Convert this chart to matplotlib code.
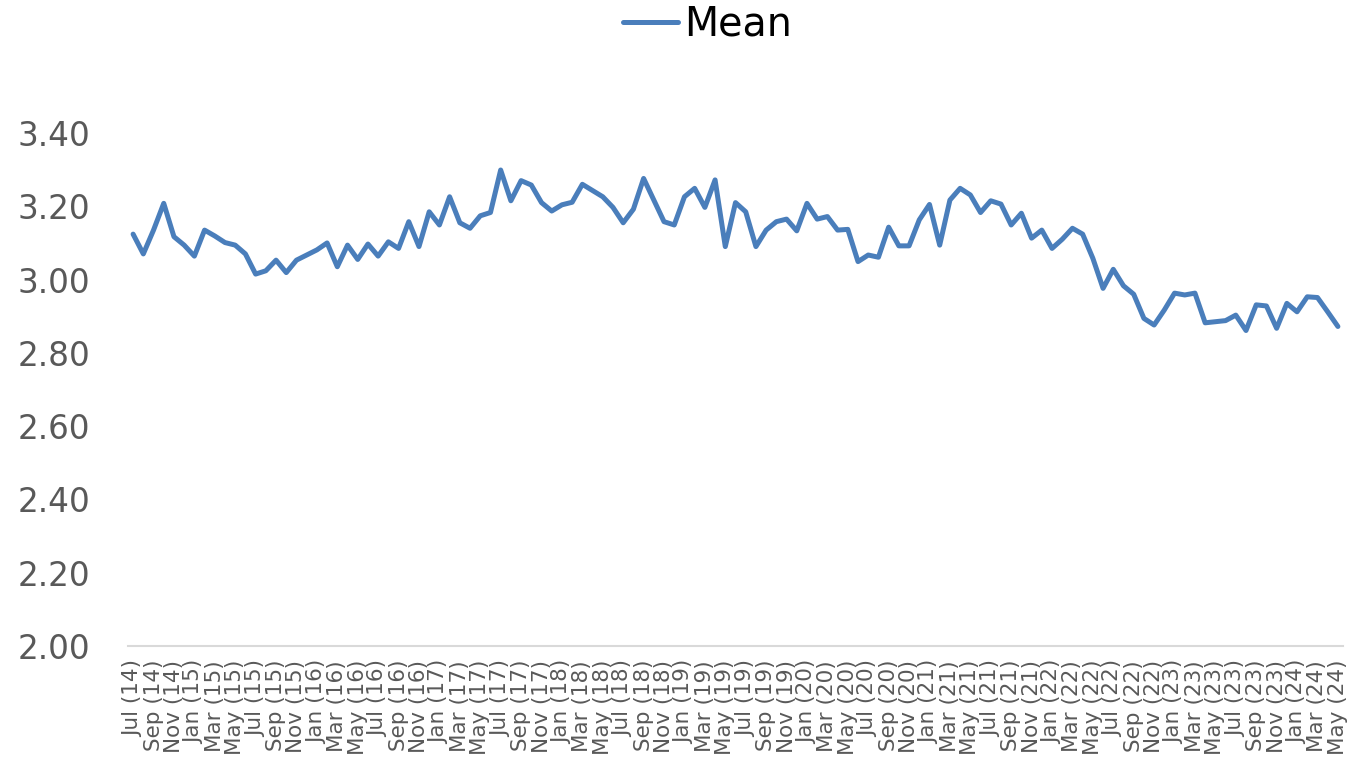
import matplotlib
matplotlib.use("Agg")
import matplotlib.pyplot as plt
import pandas as pd

# Monthly categories, Jul 2014 - May 2024
months = pd.date_range("2014-07-01", "2024-05-01", freq="MS")
month_labels = [f"{d.strftime('%b')} ({d.strftime('%y')})" for d in months]

series_name = "Mean"
mean_values = [
    3.124, 3.070, 3.135, 3.208, 3.117, 3.094, 3.064, 3.135, 3.119, 3.101,
    3.094, 3.070, 3.015, 3.024, 3.053, 3.019, 3.053, 3.067, 3.081, 3.100,
    3.035, 3.094, 3.055, 3.097, 3.064, 3.103, 3.085, 3.158, 3.090, 3.185,
    3.149, 3.226, 3.155, 3.140, 3.174, 3.183, 3.299, 3.215, 3.270, 3.258,
    3.210, 3.187, 3.204, 3.211, 3.260, 3.243, 3.226, 3.197, 3.155, 3.192,
    3.276, 3.217, 3.158, 3.149, 3.226, 3.249, 3.197, 3.272, 3.090, 3.210,
    3.185, 3.090, 3.135, 3.158, 3.165, 3.133, 3.208, 3.165, 3.172, 3.135,
    3.137, 3.049, 3.067, 3.061, 3.143, 3.092, 3.092, 3.163, 3.205, 3.094,
    3.217, 3.249, 3.231, 3.183, 3.215, 3.206, 3.149, 3.181, 3.113, 3.135,
    3.085, 3.110, 3.140, 3.124, 3.058, 2.976, 3.028, 2.983, 2.960, 2.894,
    2.876, 2.917, 2.963, 2.958, 2.963, 2.882, 2.885, 2.888, 2.903, 2.861,
    2.931, 2.928, 2.867, 2.935, 2.912, 2.953, 2.951, 2.912, 2.872,
]

y_ticks = [2.00, 2.20, 2.40, 2.60, 2.80, 3.00, 3.20, 3.40]

line_color = "#4a7ebb"
text_gray = "#595959"

fig = plt.figure(figsize=(13.5, 7.79), dpi=100)
ax = fig.add_axes([128 / 1350, 1 - 646 / 779, (1343 - 128) / 1350, (646 - 133) / 779])

x = list(range(len(mean_values)))
ax.plot(x, mean_values, color=line_color, linewidth=3.6,
        solid_joinstyle="round", solid_capstyle="round", label=series_name)

ax.set_xlim(-0.5, len(mean_values) - 0.5)
ax.set_ylim(y_ticks[0], y_ticks[-1])
ax.set_yticks(y_ticks)
ax.set_yticklabels([f"{v:.2f}" for v in y_ticks])

ax.set_xticks(x[::2])
ax.set_xticklabels(month_labels[::2], rotation=90)

for side in ("top", "right", "left"):
    ax.spines[side].set_visible(False)
ax.spines["bottom"].set_color("#d9d9d9")
ax.spines["bottom"].set_linewidth(1.5)

ax.tick_params(axis="y", length=0, pad=27, labelsize=23.5, labelcolor=text_gray)
ax.tick_params(axis="x", length=0, pad=10, labelsize=15.5, labelcolor=text_gray)

fig.legend(loc="center", bbox_to_anchor=(0.524, 0.968), frameon=False,
           fontsize=28.5, handlelength=1.39, handletextpad=0.15, borderpad=0)

fig.savefig("out.png", dpi=100)
